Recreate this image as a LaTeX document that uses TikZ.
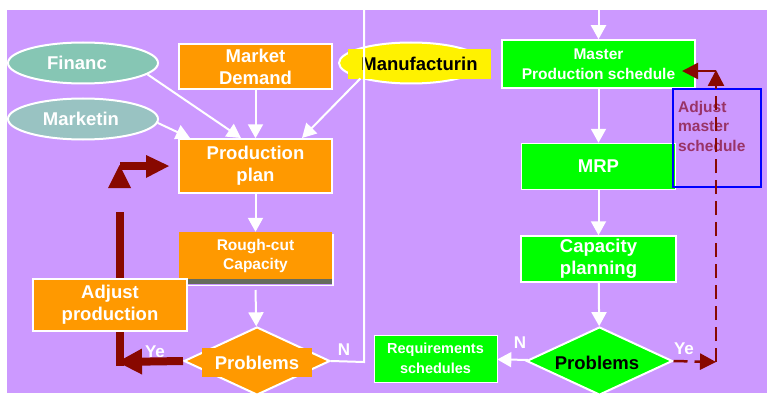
\documentclass[tikz,border=0pt]{standalone}
\usepackage{fontspec}
\setmainfont{Liberation Sans}
\usetikzlibrary{shapes.geometric,arrows.meta}
\definecolor{bgpurple}{HTML}{CC99FF}
\definecolor{orng}{HTML}{FF9900}
\definecolor{grn}{HTML}{00FF00}
\definecolor{tealA}{HTML}{86C6B4}
\definecolor{tealB}{HTML}{99C3C2}
\definecolor{darkred}{HTML}{880800}
\definecolor{adjtext}{HTML}{993366}
\definecolor{bargray}{HTML}{666B5E}
\newcommand{\mybigfont}{\fontsize{18.5}{22}\selectfont\bfseries}
\newcommand{\mymidfont}{\fontsize{15.5}{19.5}\selectfont\bfseries}
\begin{document}
\begin{tikzpicture}[x=1pt,y=-1pt,
 obox/.style={rectangle, draw=white, line width=1.5pt, fill=orng, text=white, font=\mybigfont, align=center, inner sep=0pt},
 gbox/.style={obox, fill=grn},
 oval/.style={ellipse, draw=white, line width=2pt, text=white, font=\mybigfont, inner sep=0pt, minimum width=150pt, minimum height=41pt},
 wline/.style={draw=white, line width=2pt},
 warrow/.style={wline, -{Triangle[length=14pt,width=15pt]}},
 dia/.style={diamond, draw=white, line width=2pt, minimum width=146pt, minimum height=68pt, inner sep=0pt},
 lbl/.style={text=white, font=\fontsize{17}{20}\selectfont\bfseries, inner sep=0pt},
 redthick/.style={draw=darkred, line width=8pt},
 reddash/.style={draw=darkred, line width=2.5pt, dash pattern=on 14pt off 7pt},
 redtip/.style={-{Triangle[length=16pt,width=16pt]}},
]
\useasboundingbox (0,0) rectangle (767,393);
\fill[bgpurple] (7,10) rectangle (767,393);

% ---------- left column ----------
\node[oval, fill=tealA] (fin) at (83,63) {\hspace*{-12pt}Financ};
\node[oval, fill=tealB] (mkt) at (83,119) {\hspace*{-4pt}Marketin};
\node[obox, minimum width=153pt, minimum height=45pt] (md) at (255.5,66.5) {Market\\Demand};
\node[ellipse, draw=white, line width=2pt, fill=yellow, minimum width=144pt, minimum height=41pt] (manuov) at (411,63) {};
\node[rectangle, fill=yellow, minimum width=143pt, minimum height=30pt, inner sep=0pt, font=\mybigfont, text=black] (manu) at (419.5,64) {Manufacturin};
\node[obox, minimum width=153pt, minimum height=54pt] (pp) at (255.5,166) {Production\\plan};

% red feedback bar (behind adjust box)
\coordinate (rtop) at (120,212);
\coordinate (rcorner) at (120,366);
\draw[redthick] (rtop) -- (rcorner);

% rough-cut capacity
\draw[white, line width=1.2pt] (188,285.5) -- (333,285.5) -- (333,234);
\node[rectangle, fill=orng, minimum width=153pt, minimum height=48pt, inner sep=0pt, text=white, font=\mymidfont, align=center] (rc) at (255.5,256) {Rough-cut\\Capacity};
\fill[bargray] (188,279) rectangle (332,284);

\node[obox, minimum width=154pt, minimum height=52pt] (adj) at (110,305) {Adjust\\production};

\node[dia, fill=orng] (p1) at (257,361) {};
\node[rectangle, fill=orng, minimum width=110pt, minimum height=29pt, inner sep=0pt, text=white, font=\mybigfont] (p1t) at (257,362.5) {Problems};

% bent arrow pointing at production plan
\fill[darkred] (108,188) -- (131,188) -- (119.5,165) -- cycle;
\fill[darkred] (120,162) rectangle (147,169.5);
\fill[darkred] (146,155) -- (169,166) -- (146,178) -- cycle;

% ---------- right column ----------
\node[gbox, minimum width=193pt, minimum height=48pt, font=\mymidfont] (mps) at (598.5,64) {Master\\Production schedule};
\node[gbox, minimum width=154pt, minimum height=46pt] (mrp) at (598.5,166.5) {MRP};
\node[gbox, minimum width=155pt, minimum height=46pt] (cp) at (598.5,259) {Capacity\\planning};
\node[dia, fill=grn] (p2) at (599.5,361) {};
\node[text=black, font=\mybigfont, inner sep=0pt] (p2t) at (597,362.5) {Problems};
\node[rectangle, fill=grn, draw=white, line width=0.6pt, minimum width=123pt, minimum height=47pt, inner sep=0pt, text=white, font=\fontsize{14.5}{19.5}\selectfont\bfseries, align=center] (req) at (435.5,358.5) {Requirements\\schedules};

\node[rectangle, draw=blue, line width=2.5pt, minimum width=88pt, minimum height=98pt, inner sep=0pt] (blue) at (717,138) {};
\node[anchor=west, text=adjtext, font=\mymidfont, align=left, inner sep=0pt] (adjm) at (678,126) {Adjust\\master\\schedule};

% ---------- white connectors ----------
\coordinate (ppa) at (241,138);
\coordinate (ppb) at (190,138);
\coordinate (ppc) at (302,138);
\draw[warrow] (fin.-10) -- (ppa);
\draw[warrow] (mkt.-3) -- (ppb);
\draw[warrow] (md) -- (pp);
\draw[warrow] (manuov.-163) -- (ppc);
\draw[warrow] (pp) -- (rc);
\coordinate (rcb) at (255.5,290);
\draw[warrow] (rcb) -- (p1);
\coordinate (ncorner) at (364,362);
\coordinate (ntop) at (364,0);
\draw[wline] (p1.east) -- (ncorner) -- (ntop);
\coordinate (mtop) at (598.5,10);
\draw[warrow] (mtop) -- (mps);
\draw[warrow] (mps) -- (mrp);
\draw[warrow] (mrp) -- (cp);
\draw[warrow] (cp) -- (p2);
\draw[warrow] (p2) -- (req);

\node[lbl] (n1) at (344,350) {N};
\node[lbl] (y1) at (155,352) {Ye};
\node[lbl] (n2) at (520,343) {N};
\node[lbl] (y2) at (684,349) {Ye};

% ---------- red connectors ----------
\coordinate (ytip) at (117,362);
\draw[redthick, -{Triangle[length=25pt,width=24pt]}] (p1.west) -- (ytip);

\coordinate (d1) at (716,362);
\coordinate (d2) at (716,85);
\coordinate (d3) at (716,70);
\coordinate (d4) at (716,71);
\coordinate (mpsin) at (682,71);
\draw[reddash, redtip] (p2.east) -- (d1);
\draw[reddash] (d1) -- (d2);
\draw[draw=darkred, line width=2.5pt, redtip] (d2) -- (d3);
\draw[draw=darkred, line width=2.5pt, redtip] (d4) -- (mpsin);
\end{tikzpicture}
\end{document}
